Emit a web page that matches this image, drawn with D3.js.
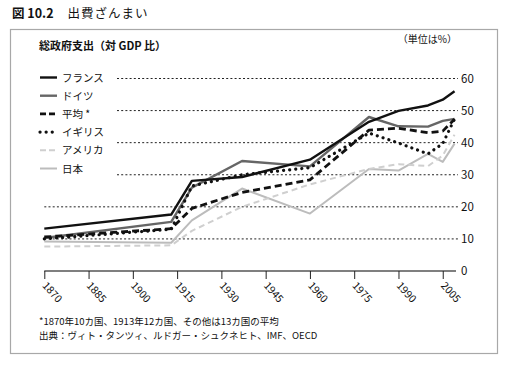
<!DOCTYPE html>
<html><head><meta charset="utf-8">
<script src="https://cdn.jsdelivr.net/npm/d3@7"></script>
<style>
html,body{margin:0;padding:0;background:#fff;}
svg{display:block;}
text{font-family:"Noto Sans CJK JP","Noto Sans",sans-serif;fill:#111;}
</style></head>
<body>
<script>
const years = [1870, 1913, 1920, 1937, 1960, 1980, 1990, 2000, 2005, 2009];
const france  = [13.2, 17.6, 28.1, 29.3, 34.7, 46.5, 49.9, 51.6, 53.4, 56.0];
const germany = [10.3, 15.3, 26.0, 34.3, 32.6, 48.0, 45.1, 45.0, 46.8, 47.4];
const average = [10.6, 13.2, 19.5, 24.5, 28.4, 43.9, 44.5, 43.1, 43.6, 47.3];
const uk      = [10.0, 13.0, 26.5, 30.0, 32.2, 43.0, 39.9, 36.5, 39.7, 47.4];
const usa     = [7.6, 8.0, 12.5, 20.0, 27.0, 31.8, 33.3, 32.7, 36.0, 42.5];
const japan   = [9.2, 8.8, 15.8, 25.7, 17.9, 31.8, 31.3, 36.5, 34.0, 39.7];
const seriesNames = ["フランス", "ドイツ", "平均 *", "イギリス", "アメリカ", "日本"];
const xTicks = [1870, 1885, 1900, 1915, 1930, 1945, 1960, 1975, 1990, 2005];
const yTicks = [0, 10, 20, 30, 40, 50, 60];

const W = 506, H = 367;
const svg = d3.select("body").append("svg").attr("width", W).attr("height", H);

const x = d3.scaleLinear().domain([1870, 2010]).range([44.3, 457.5]);
const y = d3.scaleLinear().domain([0, 60]).range([271, 78.5]);

// frame
svg.append("rect").attr("x", 10.5).attr("y", 29.5).attr("width", 487).attr("height", 324)
  .attr("fill", "none").attr("stroke", "#a8a8a8").attr("stroke-width", 1.2);

// title
const t = svg.append("text").attr("x", 12).attr("y", 18).attr("font-size", 12.5);
t.append("tspan").attr("font-weight", "bold").text("図 10.2");
t.append("tspan").attr("dx", 14).attr("letter-spacing", 1).text("出費ざんまい");

svg.append("text").attr("x", 39).attr("y", 50).attr("font-size", 11).attr("font-weight", "bold")
  .text("総政府支出（対 GDP 比）");
svg.append("text").attr("x", 457).attr("y", 43).attr("font-size", 10).attr("text-anchor", "end")
  .text("（単位は%）");

// gridlines
const grid = svg.append("g");
yTicks.filter(v => v > 0).forEach(v => {
  grid.append("line")
    .attr("x1", v >= 30 ? 117 : x(1870)).attr("x2", 458)
    .attr("y1", y(v)).attr("y2", y(v))
    .attr("stroke", "#222").attr("stroke-width", 1).attr("stroke-dasharray", "2,2.2");
});
// y labels
const yAxis = d3.axisRight(y).tickValues(yTicks).tickSize(0).tickPadding(0);
const ya = svg.append("g").attr("transform", `translate(461,0)`).call(yAxis);
ya.select(".domain").remove();
ya.selectAll("text").attr("font-size", 11.5).attr("font-family", "'Noto Sans',sans-serif").attr("fill", "#111");

// x axis
const xAxis = d3.axisBottom(x).tickValues(xTicks).tickSize(8).tickFormat(d3.format("d"));
const xa = svg.append("g").attr("transform", `translate(0,${y(0)})`).call(xAxis);
xa.select(".domain").attr("d", `M${x(1870)},0H${x(2009.5)}`).attr("stroke", "#555").attr("stroke-width", 1.6);
xa.selectAll(".tick line").attr("stroke", "#222").attr("stroke-width", 1);
xa.selectAll(".tick text")
  .attr("font-size", 10.5).attr("font-family", "'Noto Sans',sans-serif").attr("fill", "#111")
  .attr("text-anchor", "start").attr("dy", 0).attr("y", 0)
  .attr("transform", "translate(-3,15) rotate(48)");

// series
const styles = [
  {data: france,  color: "#111", w: 2.4, dash: null, cap: "butt"},
  {data: germany, color: "#666", w: 2.4, dash: null, cap: "butt"},
  {data: average, color: "#111", w: 2.8, dash: "7,4", cap: "butt"},
  {data: uk,      color: "#111", w: 3.2, dash: "0.1,6", cap: "round"},
  {data: usa,     color: "#cfcfcf", w: 2, dash: "6,4", cap: "butt"},
  {data: japan,   color: "#bcbcbc", w: 2, dash: null, cap: "butt"}
];
const line = d3.line().x((d, i) => x(years[i])).y(d => y(d));
const drawOrder = [5, 4, 1, 3, 2, 0];
drawOrder.forEach(k => {
  const s = styles[k];
  svg.append("path").datum(s.data).attr("d", line)
    .attr("fill", "none").attr("stroke", s.color).attr("stroke-width", s.w)
    .attr("stroke-dasharray", s.dash).attr("stroke-linecap", s.cap).attr("stroke-linejoin", "round");
});

// legend
const lg = svg.append("g");
seriesNames.forEach((n, i) => {
  const s = styles[i];
  const yy = 77.5 + i * 18.2;
  lg.append("line").attr("x1", 40).attr("x2", 57).attr("y1", yy).attr("y2", yy)
    .attr("stroke", s.color).attr("stroke-width", s.w)
    .attr("stroke-dasharray", i === 3 ? "0.1,6" : (s.dash ? "6,3" : null)).attr("stroke-linecap", s.cap);
  lg.append("text").attr("x", 62).attr("y", yy + 4).attr("font-size", 10.5).text(n);
});

// footnotes
svg.append("text").attr("x", 39).attr("y", 325).attr("font-size", 9.5)
  .text("*1870年10カ国、1913年12カ国、その他は13カ国の平均");
svg.append("text").attr("x", 39).attr("y", 339).attr("font-size", 9.5)
  .text("出典：ヴィト・タンツィ、ルドガー・シュクネヒト、IMF、OECD");
</script>
</body></html>
